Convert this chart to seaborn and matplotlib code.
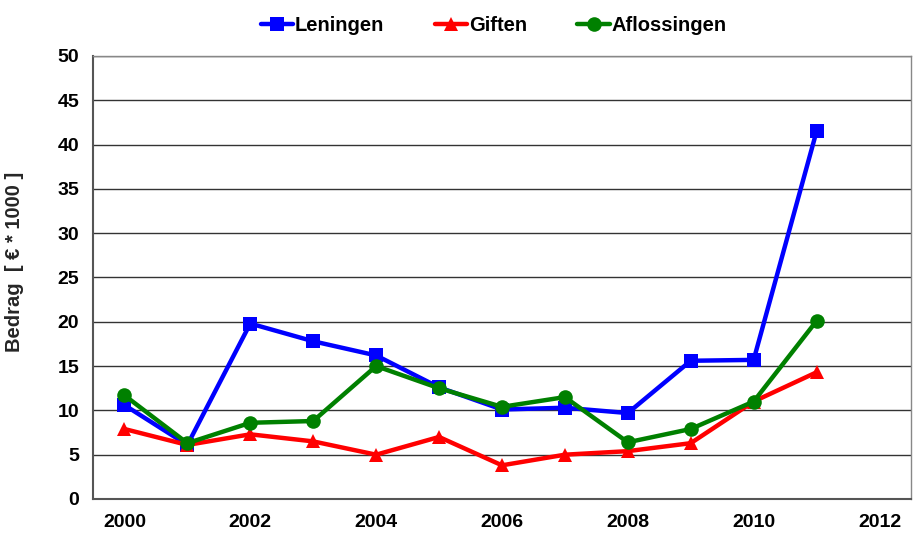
import matplotlib; matplotlib.use('Agg')
import matplotlib.pyplot as plt
import numpy as np
import pandas as pd
import seaborn as sns

# data (values in € * 1000)
YEARS = [2000, 2001, 2002, 2003, 2004, 2005, 2006, 2007, 2008, 2009, 2010, 2011]
LENINGEN = [10.6, 6.1, 19.8, 17.8, 16.2, 12.6, 10.1, 10.3, 9.7, 15.6, 15.7, 41.5]
GIFTEN = [7.9, 6.1, 7.3, 6.5, 5.0, 7.0, 3.8, 5.0, 5.4, 6.3, 11.0, 14.3]
AFLOSSINGEN = [11.7, 6.3, 8.6, 8.8, 15.0, 12.5, 10.4, 11.5, 6.4, 7.9, 11.0, 20.1]
SERIES = ['Leningen', 'Giften', 'Aflossingen']
COLORS = ['#0000FF', '#FF0000', '#008000']
MARKERS = ['s', '^', 'o']

df = pd.DataFrame({
    'jaar': YEARS * 3,
    'bedrag': LENINGEN + GIFTEN + AFLOSSINGEN,
    'reeks': [s for s in SERIES for _ in YEARS],
})

sns.set_style('white')
plt.rcParams['font.family'] = ['Liberation Sans', 'DejaVu Sans']
plt.rcParams['font.weight'] = 'bold'
plt.rcParams['text.color'] = 'black'
plt.rcParams['xtick.color'] = 'black'
plt.rcParams['ytick.color'] = 'black'

fig, ax = plt.subplots(figsize=(9.16, 5.38), dpi=100)
fig.subplots_adjust(left=0.1015, right=0.9945, top=0.896, bottom=0.0725)

sns.lineplot(data=df, x='jaar', y='bedrag', hue='reeks', style='reeks',
             hue_order=SERIES, style_order=SERIES,
             palette=dict(zip(SERIES, COLORS)),
             markers=dict(zip(SERIES, MARKERS)), dashes=False,
             linewidth=3.2, markersize=10.5, markeredgewidth=0, ax=ax)

ax.set_xlim(1999.5, 2012.5)
ax.set_ylim(0, 50)
ax.set_yticks(np.arange(0, 51, 5))
ax.set_xticks(np.arange(2000, 2013, 2))
ax.set_xticks(np.arange(1999.5, 2013, 1), minor=True)
ax.tick_params(axis='x', which='major', length=0, pad=11, labelsize=14)
ax.tick_params(axis='x', which='minor', length=5, width=1, color='#555555', direction='out')
ax.tick_params(axis='y', length=5, width=1, color='#555555', direction='out', labelsize=14, pad=5)
for lbl in ax.get_xticklabels() + ax.get_yticklabels():
    lbl.set_fontweight('bold')

ax.grid(axis='y', color='#333333', linewidth=1)
ax.set_axisbelow(True)
for side in ['left', 'bottom']:
    ax.spines[side].set_color('#555555')
    ax.spines[side].set_linewidth(1.5)
for side in ['top', 'right']:
    ax.spines[side].set_color('#888888')
    ax.spines[side].set_linewidth(1)

ax.set_xlabel('')
ax.set_ylabel('Bedrag  [ € * 1000 ]', fontsize=14.5, fontweight='bold')
ax.yaxis.set_label_coords(-0.084, 0.535)

ax.legend(loc='upper center', bbox_to_anchor=(0.49, 1.13), ncol=3, frameon=False,
          handlelength=1.6, handletextpad=0.1, columnspacing=2.5,
          prop={'weight': 'bold', 'size': 14.5})

fig.savefig('out.png', dpi=100)
